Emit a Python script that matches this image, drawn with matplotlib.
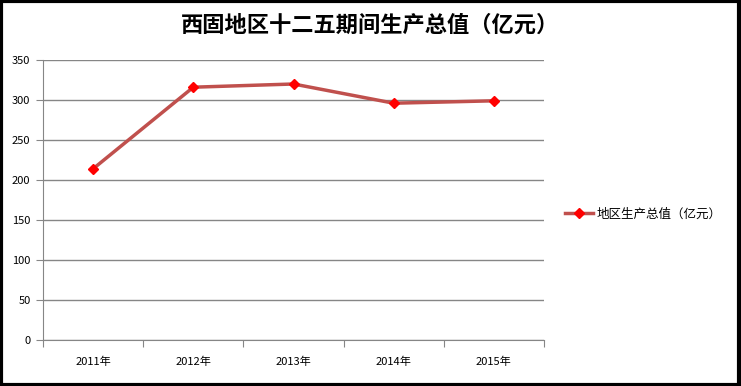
import matplotlib.pyplot as plt
import numpy as np
import matplotlib as mpl
from matplotlib.patches import Rectangle

plt.rcParams['font.family'] = ['Noto Sans CJK SC', 'DejaVu Sans']

###--- Data ---###
years = ['2011年', '2012年', '2013年', '2014年', '2015年']
gdp = [214, 316, 320, 296, 299]
series_name = '地区生产总值（亿元）'
title = '西固地区十二五期间生产总值（亿元）'

fig = plt.figure(figsize=(7.41, 3.86), dpi=100)
ax = fig.add_axes([43/741, 46/386, 501/741, 280/386])

x = np.arange(len(years))
ax.plot(x, gdp, color='#C0504D', lw=2.5, marker='D', markersize=5,
        markerfacecolor='#FF0000', markeredgecolor='#FF0000', label=series_name)

ax.set_xlim(-0.5, len(years) - 0.5)
ax.set_ylim(0, 350)
ax.set_yticks(np.arange(0, 351, 50))
ax.yaxis.grid(True, color='#868686', lw=1)
ax.set_axisbelow(True)

# category axis: ticks on band boundaries, labels centered
ax.set_xticks(np.arange(-0.5, len(years)), minor=False)
ax.set_xticklabels([])
ax.set_xticks(x, minor=True)
ax.set_xticklabels(years, minor=True, fontsize=8)
ax.tick_params(axis='x', which='minor', length=0, pad=12)
ax.tick_params(axis='x', which='major', length=5, color='#868686', direction='out')
ax.tick_params(axis='y', length=5, color='#868686', labelsize=8, pad=4)

for side in ['top', 'right']:
    ax.spines[side].set_visible(False)
for side in ['left', 'bottom']:
    ax.spines[side].set_color('#868686')

fig.text(0.5, 1 - 25/386, title, ha='center', va='center',
         fontsize=16, fontweight='bold')

leg = ax.legend(loc='center left', bbox_to_anchor=(1.02, 0.45), frameon=False,
                fontsize=9, handlelength=2.2, handletextpad=0.3)

# black frame round the whole chart
fig.patches.append(Rectangle((0.002, 0.003), 0.995, 0.994, transform=fig.transFigure,
                             fill=False, edgecolor='black', lw=3))

fig.savefig('out.png', dpi=100)
